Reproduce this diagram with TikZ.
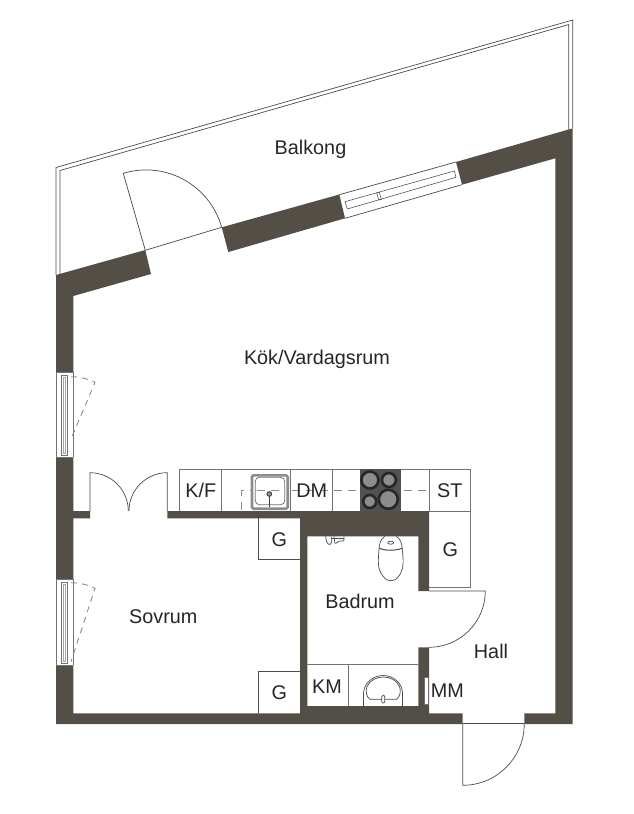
\documentclass[tikz,border=0pt]{standalone}
\usepackage{fontspec}
\setmainfont{Liberation Sans}
\usetikzlibrary{calc}
\definecolor{wallcolor}{HTML}{544F46}
\definecolor{linecolor}{HTML}{4A4A48}
\tikzset{
    %Define style for walls and fittings
    wall/.style={
           fill=wallcolor,
           draw=none},
    fitting/.style={
           draw=linecolor,
           line width=.7pt,
           line join=round},
    ledge/.style={
           draw=black!55!white,
           line width=.8pt},
    hidden line/.style={
           draw=black!45!white,
           line width=.9pt,
           dash pattern=on 8pt off 6pt},
    % Define style for room labels
    room/.style={
           font=\fontsize{19.8}{22}\selectfont,
           text=black!85!white,
           inner sep=0pt},
    burner/.style={
           circle,
           draw=black!85!white,
           line width=2.6pt,
           fill=black!45!white,
           inner sep=0pt}
}
% leaf from hinge #1 to #2, then the swing on to #3
\newcommand{\doorswing}[3]{%
  \draw[fitting] (#1) -- (#2) .. controls ($(#2)+0.5523*(#3)-0.5523*(#1)$) and ($(#3)+0.5523*(#2)-0.5523*(#1)$) .. (#3);}
\begin{document}
\begin{tikzpicture}[x=1pt,y=-1pt]
\useasboundingbox[fill=white] (0,0) rectangle (634,814);

 %balcony
\draw[fitting] (56,275) -- (56,167.5) -- (572.7,20) -- (572.7,128.3);
\draw[fitting] (60,274) -- (60,170.5) -- (568.7,24.5) -- (568.7,129.5);

 %kitchen
\draw[ledge] (179.3,511) -- (179.3,469.3) -- (470.3,469.3) -- (470.3,587.3) -- (429,587.3);
\draw[ledge] (429,511) -- (470.3,511);
\foreach \xpos in {221.3,290.3,332,429}
  \draw[ledge] (\xpos,469.3) -- (\xpos,511);
\draw[hidden line] (241.7,510) -- (241.7,490.3) -- (429,490.3);
\draw[draw=black!45!white,line width=2.6pt,fill=white,rounded corners=1.5pt] (252,475.3) rectangle (287.7,508.7);
\draw[draw=black!55!white,line width=.8pt,rounded corners=4pt] (255.3,477.3) rectangle (284.7,504.7);
\draw[hidden line] (257,490.3) -- (284,490.3);
\draw[black!75!white,line width=1.3pt] (269.3,494) -- (269.3,506.7);
\draw[black!75!white,line width=1pt,fill=black!40!white] (269.3,494) circle (2.3);
\fill[black!68!white] (360,469.3) rectangle (401,511);
\node[burner,minimum size=17pt](burner1) at (369.9,480){};
\node[burner,minimum size=14pt](burner2) at (388.9,480){};
\node[burner,minimum size=13pt](burner3) at (369.7,501.5){};
\node[burner,minimum size=19pt](burner4) at (388.3,499.3){};

 %walls
\fill[wall] (145.3,250) -- (56,275) -- (56,372) -- (73.3,372) -- (73.3,296) -- (151,274) -- cycle;
\fill[wall] (56,457) -- (73.3,457) -- (73.3,511) -- (90,511) -- (90,518.3) -- (73.3,518.3) -- (73.3,579) -- (56,579) -- cycle;
\fill[wall] (56,665) -- (73.3,665) -- (73.3,713.3) -- (300,713.3) -- (300,518.3) -- (167.3,518.3) -- (167.3,511)
  -- (429,511) -- (429,591) -- (418.3,591) -- (418.3,536.3) -- (307.3,536.3) -- (307.3,706) -- (418.3,706)
  -- (418.3,647.3) -- (429,647.3) -- (429,713.3) -- (462.7,713.3) -- (462.7,724) -- (56,724) -- cycle;
\fill[wall] (221.7,227.3) -- (339.3,194.5) -- (345,218.3) -- (228.3,252) -- cycle;
\fill[wall] (456,162) -- (572.7,128.3) -- (572.7,724) -- (524.3,724) -- (524.3,713.3) -- (555.3,713.3) -- (555.3,158.3) -- (462,184.7) -- cycle;

 %doors
\doorswing{145.3,250.3}{123.3,173.3}{221.7,227.3}
\draw[fitting] (145.3,250.3) -- (221.7,227.3);
\doorswing{90,511}{90,472.7}{128.3,511}
\doorswing{167.3,511}{167.3,472.7}{129,511}
\doorswing{429,591}{485.3,591}{429,647.3}
\doorswing{462.7,723.7}{462.7,785.3}{524.3,723.7}
\draw[fitting] (462.7,723.7) -- (524.3,723.7);

 %windows
\draw[fitting] (339.3,194.7) -- (456,162);
\draw[fitting] (345,218.3) -- (462,184.7);
\draw[fitting,line width=.55pt] (345,201.7) -- (454.3,171) -- (456,177.3) -- (347.3,209) -- cycle;
\draw[fitting,line width=.55pt] (376.7,192.8) -- (379.3,192.1) -- (381.3,199.4) -- (378.7,200.1) -- cycle;
\foreach \ypos/\yend/\ytop/\ybot in {372/457/376.7/439,579/665/582.7/661.7}{
  \draw[ledge] (56,\ypos) -- (56,\yend);
  \draw[ledge] (73.3,\ypos) -- (73.3,\yend);
  \draw[ledge] (56,\ypos) -- (73.3,\ypos);
  \draw[ledge] (56,\yend) -- (73.3,\yend);
  \draw[ledge,line width=.55pt] (61,\ypos+3) rectangle (67.3,\yend-2);
  \draw[ledge,draw=black!35!white,line width=.5pt] (63,\ypos+5) rectangle (65.3,\yend-4);
  \draw[hidden line,dash pattern=on 6pt off 5pt] (71,\ytop) .. controls (79,\ytop) and (88,\ytop+2) .. (95,\ytop+5.6) -- (71,\ybot);
}

 %cupboards
\draw[fitting] (258.7,518.3) -- (258.7,559.5) -- (300,559.5);
\draw[fitting] (258.7,713.3) -- (258.7,671.7) -- (300,671.7);

 %bathroom
\draw[ledge] (307.3,664.7) -- (418.3,664.7);
\draw[ledge] (348.7,664.7) -- (348.7,706);
\draw[fitting] (379,550) .. controls (378,560) and (378,567) .. (380,571)
  .. controls (383,578) and (387,580.7) .. (390.8,580.7)
  .. controls (395,580.7) and (399,578) .. (401.5,571)
  .. controls (403.5,567) and (403.5,560) .. (402.3,550);
\draw[fitting] (379,550) .. controls (379,543) and (381,539) .. (385,536.3);
\draw[fitting] (402.3,550) .. controls (402.3,543) and (400,539) .. (396.5,536.3);
\draw[fitting,line width=1pt] (379,548) .. controls (385,551) and (396,551) .. (402.3,548);
\draw[fitting] (390.7,542.7) ellipse (3 and 1.5);
\draw[fitting,rounded corners=1pt] (325.5,536.5) -- (327,543) -- (330,545) -- (332,541) -- (331,536.5);
\draw[fitting,rounded corners=1pt] (334,536.5) -- (335,544) -- (339,541) -- (344,541) -- (344,536.5);
\draw[fitting,line width=.9pt] (331,538) -- (344,538);
\draw[fitting] (363.5,706) -- (363.5,693) .. controls (364,683) and (373,675.5) .. (383.3,675.5)
  .. controls (393,675.5) and (402.5,683) .. (402.5,693) -- (402.5,706);
\draw[fitting] (370,699.3) .. controls (366,697) and (365.5,690) .. (367,686.5) .. controls (370,680) and (377,677) .. (383.3,677)
  .. controls (390,677) and (396.5,680) .. (399.5,686.5) .. controls (401,690) and (400.5,697) .. (396.5,699.3) -- cycle;
\draw[fitting,fill=white,rounded corners=1.2pt] (381.8,695.3) rectangle (384.8,703);
\draw[ledge,fill=white] (424,677.3) rectangle (428.7,704);

 %labels
\node[room](balkong) at (310.5,149.5){Balkong};
\node[room](kok) at (317,359.5){Kök/Vardagsrum};
\node[room](kf) at (200.7,490.5){K/F};
\node[room](dm) at (311.7,490.5){DM};
\node[room](st) at (449.7,490.5){ST};
\node[room](g1) at (279.3,539.5){G};
\node[room](g2) at (450.3,549.8){G};
\node[room](g3) at (279.3,692.8){G};
\node[room](badrum) at (360,601.2){Badrum};
\node[room](sovrum) at (163.3,616.2){Sovrum};
\node[room](hall) at (491,651){Hall};
\node[room](km) at (327,686.5){KM};
\node[room](mm) at (447.3,690.5){MM};
\end{tikzpicture}
\end{document}
